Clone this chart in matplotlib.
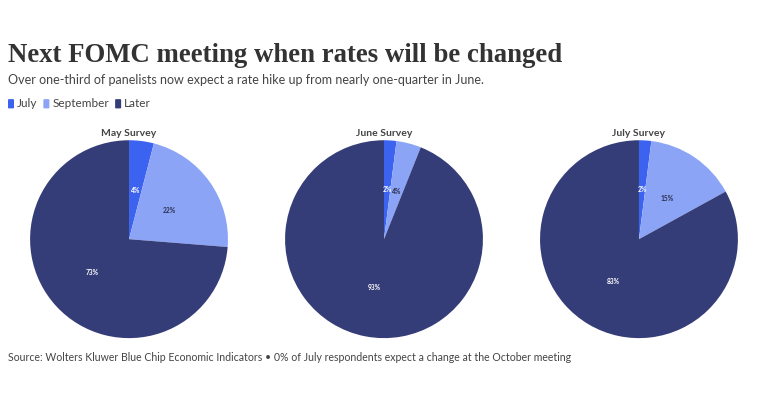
import matplotlib.pyplot as plt
from matplotlib.patches import FancyBboxPatch

# survey shares (%) for next FOMC change
categories = ['July', 'September', 'Later']
surveys = ['May Survey', 'June Survey', 'July Survey']
may_values = [4, 22, 73]
june_values = [2, 4, 93]
july_values = [2, 15, 83]
colors = ['#3b63ef', '#8ba4f6', '#343d77']
label_colors = ['white', '#2b2f4f', 'white']

fig = plt.figure(figsize=(7.68, 4.03), dpi=100)
fig.patch.set_facecolor('white')

fig.text(0.010, 0.845, 'Next FOMC meeting when rates will be changed',
         family='Liberation Serif', fontweight='bold', fontsize=19.3, color='#333333')
fig.text(0.010, 0.792, 'Over one-third of panelists now expect a rate hike up from nearly one-quarter in June.',
         family='Lato', fontsize=9.0, color='#444444')

# legend row with rounded swatches, spaced by measured text width
renderer = fig.canvas.get_renderer()
x_px = 8
for cat, col in zip(categories, colors):
    sw = FancyBboxPatch((x_px / 768, 0.731), 6 / 768, 0.023,
                        boxstyle='round,pad=0,rounding_size=0.0015',
                        transform=fig.transFigure, facecolor=col, edgecolor='none')
    fig.patches.append(sw)
    t = fig.text((x_px + 9) / 768, 0.742, cat, family='Lato', fontsize=8.5,
                 color='#444444', va='center')
    bb = t.get_window_extent(renderer)
    x_px = bb.x1 + 6

lefts = [0.039, 0.371, 0.703]
for left, title, vals in zip(lefts, surveys, [may_values, june_values, july_values]):
    ax = fig.add_axes([left, 0.161, 0.258, 0.491])
    wedges, texts, autotexts = ax.pie(vals, colors=colors, startangle=90, counterclock=False,
                                      autopct='%d%%', pctdistance=0.5,
                                      textprops={'fontsize': 4.8, 'family': 'Lato', 'fontweight': 'bold'})
    for at, c in zip(autotexts, label_colors):
        at.set_color(c)
    ax.set_xlim(-1, 1)
    ax.set_ylim(-1, 1)
    ax.set_aspect('equal')
    ax.set_title(title, family='Lato', fontweight='bold', fontsize=7.5, color='#444444', pad=3)

fig.text(0.010, 0.103, 'Source: Wolters Kluwer Blue Chip Economic Indicators \u2022 0% of July respondents expect a change at the October meeting',
         family='Lato', fontsize=7.6, color='#444444')

fig.savefig('out.png', dpi=100)
